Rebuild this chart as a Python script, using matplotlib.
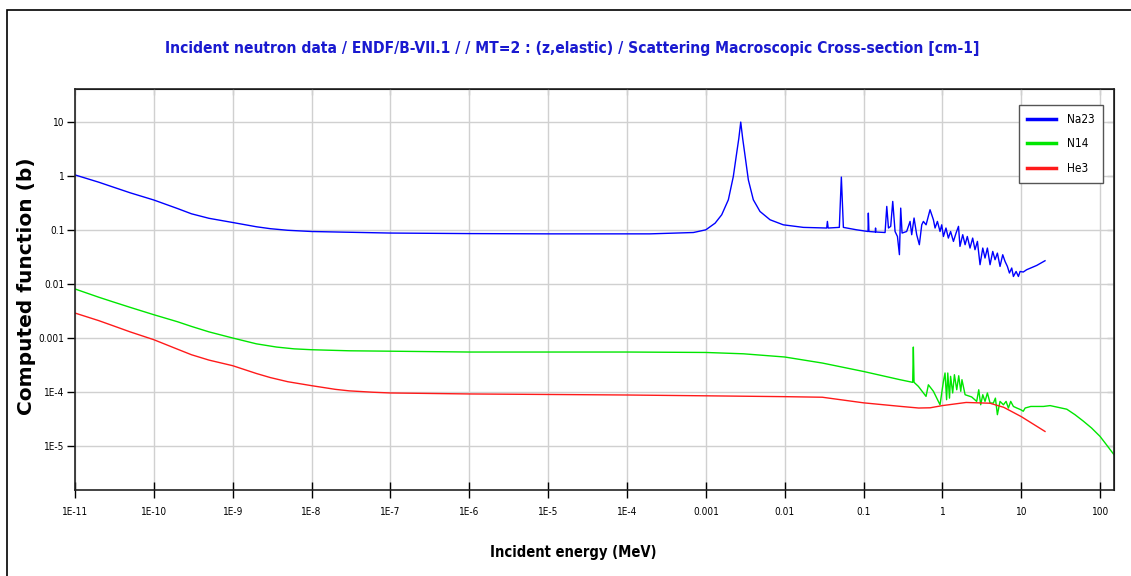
import matplotlib
matplotlib.use("Agg")
import matplotlib.pyplot as plt
from matplotlib.patches import Rectangle

# Na23 elastic (MeV, cm-1)
na23_e = [1e-11, 2e-11, 3e-11, 5e-11, 1e-10, 2e-10, 3e-10, 5e-10, 1e-9, 2e-9, 3e-9, 5e-9,
          1e-8, 3e-8, 1e-7, 1e-6, 1e-5, 1e-4,
          1.96e-4, 6.95e-4, 1.0e-3, 1.31e-3, 1.59e-3, 1.93e-3, 2.23e-3, 2.46e-3, 2.62e-3,
          2.77e-3, 2.93e-3, 3.11e-3, 3.46e-3, 4.0e-3, 4.86e-3, 6.52e-3, 9.6e-3, 1.73e-2,
          3.41e-2, 3.48e-2, 3.56e-2, 4.93e-2, 5.23e-2, 5.55e-2, 8.18e-2, 0.114,
          0.115, 0.117, 0.141, 0.142, 0.143, 0.1875, 0.197, 0.207, 0.221, 0.2345,
          0.251, 0.269, 0.285, 0.296, 0.308, 0.352, 0.389, 0.408, 0.437, 0.472,
          0.510, 0.547, 0.574, 0.621, 0.697, 0.769, 0.807, 0.864, 0.933, 0.980,
          1.03, 1.11, 1.19, 1.27, 1.38, 1.49, 1.60, 1.67, 1.81, 1.94, 2.07, 2.24,
          2.42, 2.59, 2.78, 3.00, 3.25, 3.47, 3.72, 4.02, 4.35, 4.65, 4.98, 5.38,
          5.82, 6.23, 6.67, 7.08, 7.57, 7.95, 8.60, 9.2, 9.66, 10.6, 11.7, 15.7, 20.0]
na23_v = [1.05, 0.77, 0.63, 0.49, 0.36, 0.25, 0.20, 0.165, 0.138, 0.115, 0.106, 0.099,
          0.094, 0.091, 0.088, 0.086, 0.085, 0.085,
          0.085, 0.090, 0.101, 0.134, 0.192, 0.364, 0.98, 2.66, 5.0,
          10.0, 5.0, 2.66, 0.85, 0.364, 0.221, 0.155, 0.125, 0.112,
          0.109, 0.1445, 0.109, 0.112, 0.957, 0.112, 0.101, 0.094,
          0.206, 0.094, 0.092, 0.109, 0.092, 0.090, 0.274, 0.109, 0.117, 0.339,
          0.094, 0.076, 0.035, 0.255, 0.088, 0.094, 0.1445, 0.082, 0.167, 0.082,
          0.0535, 0.125, 0.1445, 0.125, 0.238, 0.155, 0.109, 0.1445, 0.094, 0.125,
          0.076, 0.109, 0.071, 0.094, 0.0616, 0.088, 0.117, 0.0498, 0.082, 0.0535, 0.076, 0.0464,
          0.071, 0.0432, 0.0616, 0.0228, 0.0464, 0.0303, 0.0464, 0.0228, 0.0402, 0.0282, 0.0374, 0.0212,
          0.0349, 0.0262, 0.0212, 0.0160, 0.0198, 0.0138, 0.0171, 0.0138, 0.0171, 0.0167, 0.0184, 0.0221, 0.027]

# N14
n14_e = [1e-11, 2e-11, 3e-11, 5e-11, 1e-10, 2e-10, 3e-10, 5e-10, 1e-9, 2e-9, 3.6e-9, 6e-9,
         1e-8, 3e-8, 1e-7, 1e-6, 1e-5, 1e-4,
         1e-3, 3e-3, 1e-2, 3e-2, 0.1, 0.29, 0.42, 0.428, 0.437, 0.496, 0.574,
         0.62, 0.664, 0.769, 0.933, 1.03, 1.08, 1.13, 1.17, 1.23, 1.27, 1.35,
         1.42, 1.52, 1.61, 1.71, 1.77, 1.94, 2.35, 2.72, 2.89, 3.06, 3.25, 3.47,
         3.72, 4.02, 4.43, 4.70, 4.98, 5.38, 5.94, 6.42, 6.87, 7.35, 7.95, 8.77,
         9.86, 10.6, 11.2, 13.2, 19.1, 23.2, 37.8, 48.0, 61.0, 78.0, 100.0, 120.0, 150.0]
n14_v = [8.1e-3, 5.7e-3, 4.7e-3, 3.7e-3, 2.7e-3, 2.0e-3, 1.64e-3, 1.3e-3, 1.0e-3, 7.8e-4, 6.8e-4, 6.3e-4,
         6.07e-4, 5.8e-4, 5.7e-4, 5.5e-4, 5.5e-4, 5.5e-4,
         5.4e-4, 5.1e-4, 4.45e-4, 3.44e-4, 2.4e-4, 1.69e-4, 1.51e-4, 6.8e-4, 1.51e-4, 1.27e-4, 9.6e-5,
         8.3e-5, 1.36e-4, 1.03e-4, 5.8e-5, 1.57e-4, 2.25e-4, 7.2e-5, 2.25e-4, 7.7e-5, 1.95e-4, 9.6e-5,
         2.09e-4, 1.10e-4, 2.0e-4, 1.03e-4, 1.69e-4, 8.9e-5, 8.1e-5, 6.7e-5, 1.10e-4, 5.8e-5, 8.9e-5, 6.7e-5,
         9.6e-5, 6.25e-5, 6.25e-5, 7.7e-5, 3.8e-5, 6.7e-5, 5.8e-5, 6.7e-5, 5.05e-5, 6.7e-5, 5.4e-5, 5.05e-5,
         4.7e-5, 4.4e-5, 5.05e-5, 5.4e-5, 5.4e-5, 5.6e-5, 4.8e-5, 3.8e-5, 2.9e-5, 2.15e-5, 1.5e-5, 1.06e-5, 6.9e-6]

# He3
he3_e = [1e-11, 2e-11, 3e-11, 5e-11, 1e-10, 2e-10, 3e-10, 5e-10, 1e-9, 2e-9, 3e-9, 5e-9,
         1e-8, 2e-8, 3e-8, 6e-8, 1e-7, 1e-6, 1e-5,
         1e-4, 1e-3, 1e-2, 3e-2, 0.1, 0.3, 0.5, 0.7, 1.0, 2.0, 4.0, 6.0, 10.0, 20.0]
he3_v = [2.9e-3, 2.1e-3, 1.7e-3, 1.3e-3, 9.3e-4, 6.2e-4, 4.9e-4, 3.9e-4, 3.07e-4, 2.2e-4, 1.85e-4, 1.55e-4,
         1.31e-4, 1.12e-4, 1.05e-4, 9.9e-5, 9.6e-5, 9.2e-5, 9.0e-5,
         8.8e-5, 8.5e-5, 8.2e-5, 8.0e-5, 6.3e-5, 5.4e-5, 5.05e-5, 5.1e-5, 5.6e-5, 6.4e-5, 6.2e-5, 5.2e-5, 3.5e-5, 1.86e-5]

xticks = [1e-11, 1e-10, 1e-9, 1e-8, 1e-7, 1e-6, 1e-5, 1e-4, 1e-3, 1e-2, 0.1, 1, 10, 100]
xlabels = ["1E-11", "1E-10", "1E-9", "1E-8", "1E-7", "1E-6", "1E-5", "1E-4",
           "0.001", "0.01", "0.1", "1", "10", "100"]
yticks = [1e-5, 1e-4, 1e-3, 1e-2, 0.1, 1, 10]
ylabels = ["1E-5", "1E-4", "0.001", "0.01", "0.1", "1", "10"]

narrow = dict(family="DejaVu Sans", stretch="condensed")

fig = plt.figure(figsize=(11.31, 5.76), dpi=100)
ax = fig.add_axes([75 / 1131, 1 - 490 / 576, (1114 - 75) / 1131, (490 - 89) / 576])

# page frame (left and top edges visible)
fig.patches.append(Rectangle((7 / 1131, -0.1), 1.2, 1.1 - 10 / 576, transform=fig.transFigure,
                             fill=False, edgecolor="black", linewidth=1.2))

ax.plot(na23_e, na23_v, color="#0000ff", linewidth=1.0, label="Na23")
ax.plot(n14_e, n14_v, color="#00e600", linewidth=1.0, label="N14")
ax.plot(he3_e, he3_v, color="#ff1a1a", linewidth=1.0, label="He3")

ax.set_xscale("log")
ax.set_yscale("log")
ax.set_xlim(1e-11, 150)
ax.set_ylim(1.53e-6, 41)
ax.set_xticks(xticks)
ax.set_xticklabels(xlabels, fontsize=7.2, **narrow)
ax.set_yticks(yticks)
ax.set_yticklabels(ylabels, fontsize=7.2, **narrow)
ax.minorticks_off()
ax.grid(True, color="#d0d0d0", linewidth=1.0)
ax.set_axisbelow(True)
for s in ax.spines.values():
    s.set_linewidth(1.2)
    s.set_color("#222222")
ax.tick_params(axis="x", direction="inout", length=12, width=1.0, pad=6)
ax.tick_params(axis="y", direction="out", length=6, width=1.0, pad=1.5)

top = ax.secondary_xaxis("top")
top.set_xticks(xticks)
top.tick_params(direction="in", length=4, labeltop=False)
top.minorticks_off()
right = ax.secondary_yaxis("right")
right.set_yticks(yticks)
right.tick_params(direction="in", length=5, labelright=False)
right.minorticks_off()

fig.text(573 / 1131, 1 - 553 / 576, "Incident energy (MeV)", ha="center", va="center",
         fontweight="bold", fontsize=10.5, **narrow)
fig.text(27 / 1131, 1 - 286 / 576, "Computed function (b)", ha="center", va="center",
         rotation=90, family="DejaVu Sans", fontweight="bold", fontsize=14.5)
fig.text(572 / 1131, 1 - 48 / 576,
         "Incident neutron data / ENDF/B-VII.1 / / MT=2 : (z,elastic) / Scattering Macroscopic Cross-section [cm-1]",
         ha="center", va="center", color="#1a1ad0", fontweight="bold", fontsize=11.2, **narrow)

leg = ax.legend(loc="upper right", bbox_to_anchor=((1103 - 75) / 1039, (490 - 105) / 401),
                borderaxespad=0, fancybox=False, framealpha=1, edgecolor="#555555",
                prop=dict(size=8.5, **narrow), handlelength=2.4, labelspacing=0.95,
                borderpad=0.7, handletextpad=0.95)
for line in leg.get_lines():
    line.set_linewidth(2.5)

fig.savefig("out.png", dpi=100)
